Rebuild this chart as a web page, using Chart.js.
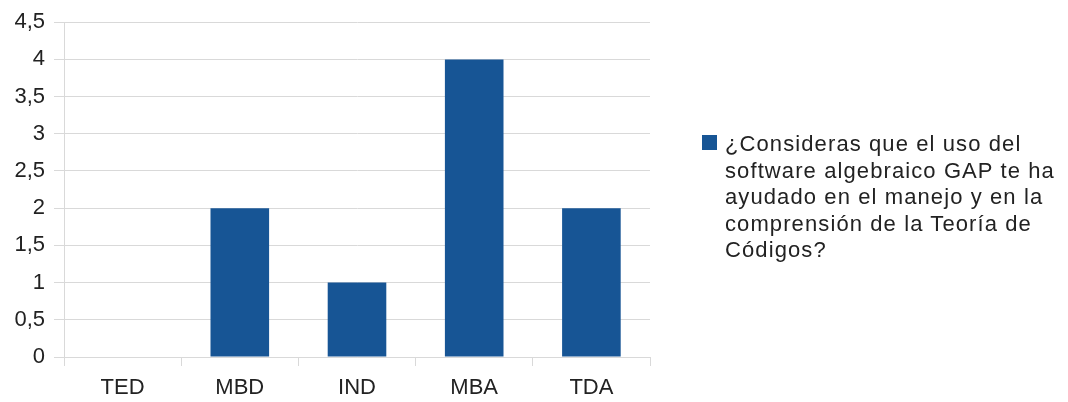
<!DOCTYPE html>
<html lang="es">
<head>
<meta charset="utf-8">
<title>GAP - Teoría de Códigos</title>
<script src="https://cdn.jsdelivr.net/npm/chart.js@4.4.0/dist/chart.umd.min.js"></script>
<style>
  html, body { margin: 0; padding: 0; background: #fff; overflow: hidden; }
  #wrap { position: relative; width: 1068px; height: 402px; }
  #grafica { position: absolute; left: 0; top: 0; }
  #leyenda {
    position: absolute; left: 702px; top: 131px; width: 364px;
    font-family: "Liberation Sans", Arial, sans-serif; font-size: 22px;
    letter-spacing: 1.1px; line-height: 26.5px; color: #222;
  }
  #leyenda .item { display: flex; align-items: flex-start; }
  #leyenda .caja { flex: 0 0 15px; height: 15px; margin: 4px 8px 0 0; }
</style>
</head>
<body>
<div id="wrap">
  <canvas id="grafica" width="1068" height="402"></canvas>
  <div id="leyenda"></div>
</div>
<script>
// Datos
const categorias = ['TED', 'MBD', 'IND', 'MBA', 'TDA'];
const respuestas = [0, 2, 1, 4, 2];
const serie = '¿Consideras que el uso del software algebraico GAP te ha ayudado en el manejo y en la comprensión de la Teoría de Códigos?';
const yMin = 0, yMax = 4.5, yPaso = 0.5;

const azul = '#175595';
const gris = '#d9d9d9';
const fuente = { family: '"Liberation Sans", Arial, sans-serif', size: 22 };

const ctx = document.getElementById('grafica').getContext('2d');
const chart = new Chart(ctx, {
  type: 'bar',
  data: {
    labels: categorias,
    datasets: [{
      label: serie,
      data: respuestas,
      backgroundColor: azul,
      borderWidth: 0,
      barPercentage: 0.5,
      categoryPercentage: 1
    }]
  },
  options: {
    responsive: false,
    animation: false,
    layout: { padding: { top: 20, right: 418, bottom: 0, left: 0 } },
    plugins: { legend: { display: false }, tooltip: { enabled: false } },
    scales: {
      x: {
        afterFit: (s) => { s.height = 45; },
        grid: {
          offset: true,
          color: (c) => (c.index === 0 || c.index === categorias.length) ? gris : 'rgba(0,0,0,0)',
          tickColor: gris,
          tickLength: 9
        },
        border: { color: gris },
        ticks: { color: '#222', font: fuente, padding: 9 }
      },
      y: {
        min: yMin, max: yMax,
        afterFit: (s) => { s.width = 64; },
        grid: { color: gris, tickLength: 10 },
        border: { color: gris },
        ticks: {
          stepSize: yPaso,
          color: '#222',
          font: fuente,
          padding: 9,
          callback: (v) => v.toString().replace('.', ',')
        }
      }
    }
  }
});

// Leyenda en HTML
const leyenda = document.getElementById('leyenda');
chart.data.datasets.forEach((ds) => {
  const item = document.createElement('div');
  item.className = 'item';
  const caja = document.createElement('span');
  caja.className = 'caja';
  caja.style.background = ds.backgroundColor;
  const txt = document.createElement('span');
  txt.textContent = ds.label;
  item.appendChild(caja);
  item.appendChild(txt);
  leyenda.appendChild(item);
});
</script>
</body>
</html>
